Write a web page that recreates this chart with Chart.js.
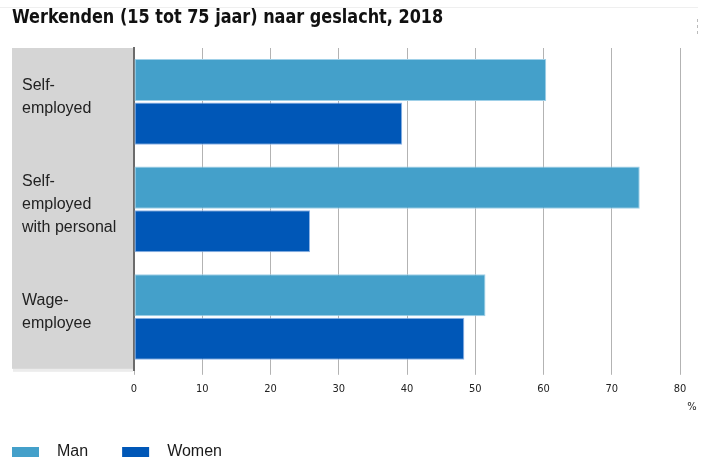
<!DOCTYPE html>
<html>
<head>
<meta charset="utf-8">
<script src="https://cdn.jsdelivr.net/npm/chart.js@4"></script>
<style>
  html, body { margin: 0; padding: 0; background: #fff; }
  #wrap { width: 708px; height: 459px; position: relative; }
</style>
</head>
<body>
<div id="wrap"><canvas id="chart" width="708" height="459"></canvas></div>
<script>
// Werkenden (15 tot 75 jaar) naar geslacht, 2018 — share in %
const titleText = 'Werkenden (15 tot 75 jaar) naar geslacht, 2018';
const categories = [
  ['Self-', 'employed'],
  ['Self-', 'employed', 'with personal'],
  ['Wage-', 'employee']
];
const seriesNames = ['Man', 'Women'];
const manValues = [60.4, 74.1, 51.5];
const womenValues = [39.3, 25.8, 48.4];
const xTicks = [0, 10, 20, 30, 40, 50, 60, 70, 80];
const unitLabel = '%';

const colMan = '#44a0ca';
const colWomen = '#0057b7';

// Grey label panel, title, unit and legend
const decorations = {
  id: 'decorations',
  beforeDraw(chart) {
    const { ctx, chartArea } = chart;
    ctx.save();
    // faint top rule
    ctx.fillStyle = '#efefef';
    ctx.fillRect(0, 7, 698, 1);
    // menu dots
    ctx.fillStyle = '#bbb';
    [19, 25, 31].forEach(yy => ctx.fillRect(697, yy, 1, 3));
    // label panel with a soft shadow
    ctx.fillStyle = '#ececec';
    ctx.fillRect(13, chartArea.top + 1, chartArea.left - 13 - 1, chartArea.bottom - chartArea.top);
    ctx.fillStyle = '#d5d5d5';
    ctx.fillRect(12, chartArea.top, chartArea.left - 12 - 1, chartArea.bottom - chartArea.top - 2);
    ctx.restore();
  },
  afterDraw(chart) {
    const { ctx, chartArea } = chart;
    ctx.save();
    // title, slightly condensed
    ctx.fillStyle = '#111';
    ctx.font = 'bold 19px "DejaVu Sans Condensed", sans-serif';
    ctx.textBaseline = 'middle';
    ctx.textAlign = 'left';
    ctx.save();
    ctx.translate(12, 18);
    ctx.scale(0.94, 1);
    ctx.fillText(titleText, 0, 0);
    ctx.restore();
    // unit
    ctx.font = '11px "DejaVu Sans Condensed", sans-serif';
    ctx.fillStyle = '#222';
    ctx.textAlign = 'center';
    ctx.fillText(unitLabel, chartArea.right + 12, 407);
    // legend
    ctx.font = '16px "Liberation Sans", Arial, sans-serif';
    ctx.textAlign = 'left';
    let x = 12;
    chart.data.datasets.forEach(ds => {
      ctx.fillStyle = ds.backgroundColor;
      ctx.fillRect(x, 447, 27, 10);
      ctx.fillStyle = '#1a1a1a';
      ctx.fillText(ds.label, x + 45, 452);
      x += 45 + ctx.measureText(ds.label).width + 34;
    });
    ctx.restore();
  }
};

new Chart(document.getElementById('chart'), {
  type: 'bar',
  data: {
    labels: categories,
    datasets: [
      { label: seriesNames[0], data: manValues, backgroundColor: colMan, borderColor: '#9fd0e8', borderWidth: 1, borderSkipped: false },
      { label: seriesNames[1], data: womenValues, backgroundColor: colWomen, borderColor: '#8fb4e6', borderWidth: 1, borderSkipped: false }
    ]
  },
  options: {
    indexAxis: 'y',
    responsive: false,
    animation: false,
    devicePixelRatio: 1,
    layout: { padding: { top: 48, left: 22, right: 28, bottom: 55 } },
    datasets: { bar: { categoryPercentage: 0.81, barPercentage: 0.966 } },
    plugins: {
      legend: { display: false },
      title: { display: false },
      tooltip: { enabled: false }
    },
    scales: {
      x: {
        min: 0, max: 80,
        afterBuildTicks(scale) { scale.ticks = xTicks.map(v => ({ value: v })); },
        grid: { color: '#b3b3b3', lineWidth: 1, drawTicks: true, tickLength: 4, tickColor: '#b3b3b3' },
        border: { display: false },
        ticks: { color: '#222', font: { family: '"DejaVu Sans Condensed", sans-serif', size: 11 }, padding: 8, maxRotation: 0 }
      },
      y: {
        afterFit(scale) { scale.width = 112; },
        grid: { display: false },
        border: { display: true, color: '#6b6b6b', width: 2 },
        ticks: {
          crossAlign: 'far',
          labelOffset: -5,
          color: '#222',
          font: { family: '"Liberation Sans", Arial, sans-serif', size: 16, lineHeight: 1.45 }
        }
      }
    }
  },
  plugins: [decorations]
});
</script>
</body>
</html>
